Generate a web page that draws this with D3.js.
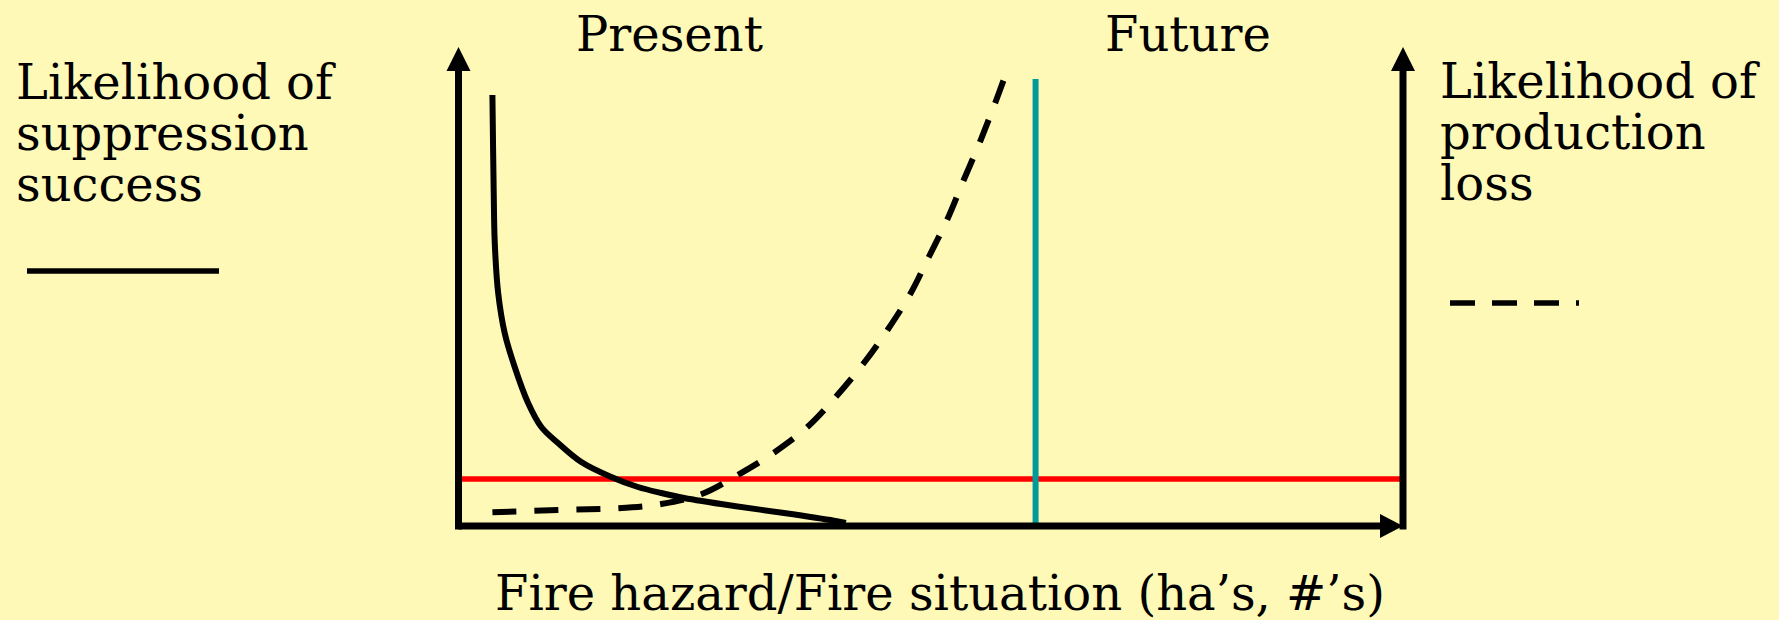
<!DOCTYPE html>
<html>
<head>
<meta charset="utf-8">
<script src="https://cdn.jsdelivr.net/npm/d3@7"></script>
<style>
  html, body { margin: 0; padding: 0; background: #fff9b8; }
  svg { display: block; }
  text { font-family: "DejaVu Serif", serif; fill: #000; }
</style>
</head>
<body>
<svg id="chart" width="1779" height="620"></svg>
<script>
// ---- data ----
const xDomain = [0, 100];            // fire hazard / fire situation (relative)
const yDomain = [0, 100];            // likelihood (relative)

// Likelihood of suppression success (solid)
const suppressionX = [3.59, 3.73, 3.84, 4.20, 4.89, 5.95, 7.37, 8.77, 10.54, 13.00, 16.17, 19.00, 21.46, 23.89, 29.18, 34.46, 39.75, 41.01];
const suppressionY = [89.98, 69.46, 59.08, 48.64, 40.29, 33.19, 25.68, 20.67, 17.33, 13.36, 10.23, 8.14, 6.89, 5.85, 4.18, 2.71, 1.11, 0.63];

// Likelihood of production loss (dashed)
const lossX = [3.59, 10.54, 16.88, 21.46, 25.69, 29.57, 33.40, 36.97, 39.96, 42.92, 45.42, 47.89, 49.79, 51.77, 53.49, 55.29, 56.87, 57.72];
const lossY = [2.86, 3.34, 3.70, 4.59, 6.62, 10.65, 15.30, 20.73, 26.99, 34.03, 40.92, 48.64, 56.16, 64.09, 72.23, 80.58, 88.58, 93.11];

// Reference lines
const thresholdY = [9.8];            // red horizontal line
const presentFutureX = [61.1];       // teal vertical divider
const presentFutureTop = [93.3];

// Texts
const leftLabel = ["Likelihood of", "suppression", "success"];
const rightLabel = ["Likelihood of", "production", "loss"];
const periodLabels = ["Present", "Future"];
const xAxisLabel = ["Fire hazard/Fire situation (ha\u2019s, #\u2019s)"];

// ---- drawing ----
const svg = d3.select("#chart");
svg.append("rect").attr("width", 1779).attr("height", 620).attr("fill", "#fff9b8");

const x = d3.scaleLinear().domain(xDomain).range([458.5, 1403]);
const y = d3.scaleLinear().domain(yDomain).range([526, 47]);

const g = svg.append("g");

// threshold (red)
g.selectAll(".thr").data(thresholdY).join("line")
  .attr("x1", x(0)).attr("x2", x(100))
  .attr("y1", d => y(d)).attr("y2", d => y(d))
  .attr("stroke", "#ff0000").attr("stroke-width", 5.5);

// divider (teal)
g.selectAll(".div").data(presentFutureX).join("line")
  .attr("x1", d => x(d)).attr("x2", d => x(d))
  .attr("y1", y(0)).attr("y2", (d, i) => y(presentFutureTop[i]))
  .attr("stroke", "#009a9a").attr("stroke-width", 6);

// curves
const line = d3.line().x(d => x(d[0])).y(d => y(d[1])).curve(d3.curveCatmullRom.alpha(0.5));
const supp = suppressionX.map((v, i) => [v, suppressionY[i]]);
const loss = lossX.map((v, i) => [v, lossY[i]]);

g.append("path").datum(supp).attr("d", line)
  .attr("fill", "none").attr("stroke", "#000").attr("stroke-width", 6)
  .attr("stroke-linejoin", "round");

g.append("path").datum(loss).attr("d", line)
  .attr("fill", "none").attr("stroke", "#000").attr("stroke-width", 6)
  .attr("stroke-dasharray", "24,18");

// axes
const axW = 7;
const ax = svg.append("g");
ax.append("line").attr("x1", x(0)).attr("x2", x(0)).attr("y1", y(0) + 3.5).attr("y2", y(100) + 20)
  .attr("stroke", "#000").attr("stroke-width", axW);
ax.append("line").attr("x1", x(100)).attr("x2", x(100)).attr("y1", y(0) + 3.5).attr("y2", y(100) + 20)
  .attr("stroke", "#000").attr("stroke-width", axW);
ax.append("line").attr("x1", x(0)).attr("x2", x(100) - 18).attr("y1", y(0)).attr("y2", y(0))
  .attr("stroke", "#000").attr("stroke-width", axW);

function upArrow(cx, tip) {
  return `M${cx},${tip} L${cx - 12},${tip + 24} L${cx + 12},${tip + 24} Z`;
}
ax.append("path").attr("d", upArrow(x(0), y(100))).attr("fill", "#000");
ax.append("path").attr("d", upArrow(x(100), y(100))).attr("fill", "#000");
ax.append("path")
  .attr("d", `M${x(100)},${y(0)} L${x(100) - 23},${y(0) - 12} L${x(100) - 23},${y(0) + 12} Z`)
  .attr("fill", "#000");

// texts
const fs = 48;
svg.append("g").selectAll("text").data(leftLabel).join("text")
  .attr("x", 16).attr("y", (d, i) => 99 + i * 51)
  .attr("font-size", fs).text(d => d);

svg.append("g").selectAll("text").data(rightLabel).join("text")
  .attr("x", 1440).attr("y", (d, i) => 98 + i * 51)
  .attr("font-size", fs).text(d => d);

const periodX = [669.5, 1188];
svg.append("g").selectAll("text").data(periodLabels).join("text")
  .attr("x", (d, i) => periodX[i]).attr("y", 51)
  .attr("text-anchor", "middle").attr("font-size", fs).text(d => d);

svg.append("text").attr("x", 940).attr("y", 610)
  .attr("text-anchor", "middle").attr("font-size", fs).text(xAxisLabel[0]);

// legend swatches
svg.append("line").attr("x1", 27).attr("x2", 219).attr("y1", 271).attr("y2", 271)
  .attr("stroke", "#000").attr("stroke-width", 5.5);
svg.append("line").attr("x1", 1450).attr("x2", 1579).attr("y1", 303).attr("y2", 303)
  .attr("stroke", "#000").attr("stroke-width", 5.5).attr("stroke-dasharray", "25,17");
</script>
</body>
</html>
